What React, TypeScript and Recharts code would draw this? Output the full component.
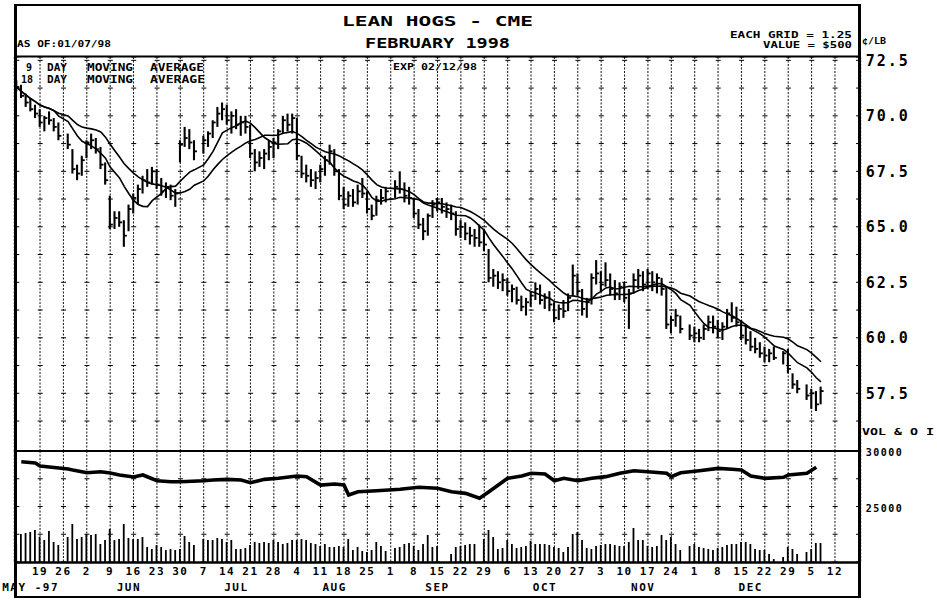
import React from 'react';
import { ComposedChart, Bar, Line, XAxis, YAxis, CartesianGrid } from 'recharts';

// daily bars, one per trading day from Mon May 12 1997; null = exchange holiday
// [high, low, close] in cents per lb
type OHLC = [number, number, number] | null;

const priceBars: OHLC[] = [
  [71.6, 71.1, 71.3], [71.4, 70.8, 70.9], [71.0, 70.4, 70.6], [70.8, 70.2, 70.3], [70.5, 69.9, 70.1],
  [70.3, 69.5, 69.7], [70.0, 69.3, 69.9], [70.2, 69.6, 69.8], [69.9, 69.3, 69.5], [69.7, 68.9, 69.1],
  null, [69.2, 68.5, 68.7], [68.5, 67.4, 67.6], [67.8, 67.1, 67.4], [68.2, 67.3, 68.0],
  [68.9, 68.1, 68.8], [69.2, 68.5, 68.9], [69.0, 68.3, 68.5], [68.6, 67.6, 67.8], [67.9, 66.9, 67.1],
  [66.4, 64.9, 65.1], [65.7, 64.9, 65.4], [65.7, 65.0, 65.2], [65.3, 64.1, 64.6], [66.0, 64.8, 65.8],
  [66.5, 65.6, 66.3], [66.9, 66.0, 66.7], [67.3, 66.5, 67.1], [67.6, 66.8, 67.0], [67.7, 66.9, 67.5],
  [67.6, 66.7, 66.9], [67.2, 66.4, 66.6], [67.0, 66.3, 66.8], [66.9, 66.2, 66.4], [66.7, 65.9, 66.5],
  [68.9, 67.9, 68.7], [69.5, 68.6, 69.0], [69.4, 68.5, 68.8], [68.9, 68.0, 68.4], null,
  [69.1, 68.3, 68.9], [69.3, 68.6, 69.2], [69.8, 69.0, 69.7], [70.4, 69.5, 70.1], [70.6, 69.8, 70.3],
  [70.5, 69.6, 69.8], [70.2, 69.2, 70.0], [70.3, 69.4, 69.6], [70.0, 69.1, 69.7], [70.0, 69.2, 69.5],
  [69.6, 68.1, 68.3], [68.5, 67.5, 67.9], [68.4, 67.7, 68.1], [68.5, 67.6, 68.3], [68.9, 68.0, 68.6],
  [69.0, 68.1, 68.8], [69.4, 68.5, 69.3], [70.0, 69.2, 69.8], [70.1, 69.3, 69.6], [70.1, 69.2, 69.9],
  [69.9, 68.0, 68.2], [68.2, 67.2, 67.4], [67.8, 67.0, 67.3], [67.6, 66.8, 67.1], [67.5, 66.7, 67.2],
  [67.8, 67.0, 67.6], [68.2, 67.3, 68.0], [68.7, 67.8, 68.4], [68.5, 67.3, 67.5], [67.6, 66.2, 66.4],
  [66.8, 65.8, 66.0], [66.6, 65.9, 66.4], [66.7, 65.9, 66.1], [66.9, 66.0, 66.6], [67.2, 66.3, 66.5],
  [66.6, 65.6, 65.8], [66.0, 65.3, 65.5], [66.4, 65.5, 66.2], [66.7, 66.0, 66.3], [66.8, 66.1, 66.6],
  null, [67.1, 66.3, 66.8], [67.5, 66.5, 66.7], [67.0, 66.1, 66.4], [66.8, 66.0, 66.3],
  [66.3, 65.4, 65.6], [65.8, 64.9, 65.1], [65.4, 64.4, 64.8], [65.6, 64.6, 65.5], [66.2, 65.4, 66.0],
  [66.3, 65.7, 66.1], [66.3, 65.6, 65.9], [66.1, 65.4, 65.8], [66.0, 65.3, 65.6], [65.7, 64.6, 64.9],
  [65.3, 64.5, 65.0], [65.2, 64.4, 64.7], [65.0, 64.2, 64.6], [64.9, 64.1, 64.5], [65.1, 64.1, 64.3],
  [64.9, 63.9, 64.2], [64.0, 62.5, 62.7], [63.1, 62.3, 62.8], [63.0, 62.2, 62.5], [62.9, 62.1, 62.6],
  [62.7, 61.9, 62.1], [62.4, 61.6, 62.2], [62.3, 61.5, 61.7], [61.9, 61.2, 61.4], [61.8, 61.0, 61.6],
  [62.1, 61.4, 61.9], [62.5, 61.7, 62.2], [62.4, 61.5, 61.7], [62.0, 61.3, 61.8], [62.1, 61.2, 61.5],
  [61.6, 60.7, 60.9], [61.5, 60.8, 61.3], [61.7, 60.9, 61.2], [62.0, 61.2, 61.8], [63.3, 61.9, 62.8],
  [62.9, 61.9, 62.1], [62.2, 61.0, 61.3], [61.8, 60.9, 61.6], [62.9, 61.5, 62.7], [63.5, 62.4, 62.9],
  [63.0, 62.1, 62.4], [63.4, 62.3, 62.6], [62.9, 61.9, 62.2], [62.6, 61.7, 62.0], [62.5, 61.7, 62.3],
  [62.5, 61.6, 61.8], [62.2, 60.4, 62.0], [62.9, 62.0, 62.6], [63.1, 62.2, 62.8], [63.0, 62.1, 62.4],
  [63.1, 62.2, 62.9], [63.0, 62.1, 62.5], [62.9, 62.0, 62.7], [62.7, 61.9, 62.2], [62.3, 60.4, 60.6],
  [61.0, 60.2, 60.8], [61.3, 60.5, 61.0], [61.0, 60.2, 60.4], null, [60.6, 59.9, 60.1],
  [60.5, 59.8, 60.2], [60.4, 59.8, 60.0], [60.6, 59.9, 60.4], [61.0, 60.3, 60.7], [61.0, 60.2, 60.5],
  [60.8, 60.0, 60.3], [60.7, 59.9, 60.5], [61.3, 60.4, 61.1], [61.6, 60.7, 60.9], [61.4, 60.5, 60.7],
  [60.8, 59.9, 60.1], [60.6, 59.7, 59.9], [60.3, 59.4, 59.6], [60.0, 59.3, 59.5], [59.8, 59.1, 59.3],
  [59.6, 58.9, 59.2], [59.5, 58.9, 59.3], [59.6, 59.0, 59.1], null, [59.4, 58.8, 59.3],
  [59.5, 58.4, 58.6], [58.4, 57.7, 57.9], [58.1, 57.5, 57.7], null, [57.9, 57.2, 57.4],
  [57.7, 56.8, 57.5], [57.6, 56.7, 57.0], [57.8, 57.0, 57.6],
];

// daily volume, contracts
const volume: (number | null)[] = [
  1800, 2800, 2900, 3000, 3200, 2500, 2200, 3100, 2000, 1700,
  null, 2500, 3800, 2300, 2500, 2800, 2700, 2800, 1800, 2200,
  3300, 2200, 2300, 3800, 2400, 2300, 2300, 2500, 1500, 1300,
  1700, 1500, 1200, 1300, 1200, 1300, 2600, 2000, 1700, null,
  2300, 2200, 2200, 2400, 2300, 2000, 2200, 1300, 1300, 1400,
  1700, 2000, 1900, 2000, 1900, 2200, 2000, 1800, 1900, 2200,
  2200, 2300, 2200, 1900, 1800, 1600, 1800, 1500, 1500, 1600,
  1500, 2300, 1200, 1500, 1100, 1000, 1200, 2000, 1600, 1100,
  null, 1400, 1500, 1800, 1900, 1600, 1200, 1800, 2700, 1500,
  1600, 0, 0, 800, 1500, 1600, 1700, 1800, 1800, 0,
  2300, 3200, 2500, 1300, 1400, 2200, 1800, 1400, 1500, 1600,
  2100, 1800, 1800, 1800, 1700, 1500, 1400, 1000, 1500, 2800,
  3000, 2200, 1400, 1300, 1600, 1700, 1800, 1800, 1700, 1600,
  1600, 2000, 3400, 2200, 2200, 1600, 1500, 1600, 2700, 2200,
  2500, 1800, 1200, null, 1600, 1800, 1500, 1400, 1300, 1200,
  1400, 1500, 1700, 1800, 1800, 2000, 2000, 1800, 1300, 1200,
  1200, 800, 300, null, 500, 1500, 1300, 800, null, 1000,
  1300, 1900, 1900,
];

// open interest, read at these trading-day slots
const oiDays = [
  1, 4, 5, 7, 11, 12, 15, 18, 20, 22, 25, 27, 30, 33, 35, 40, 42, 45, 48, 50,
  53, 56, 60, 62, 65, 68, 70, 71, 73, 77, 82, 86, 90, 93, 96, 99, 101, 103, 105, 108,
  110, 113, 115, 117, 120, 123, 126, 129, 132, 135, 139, 140, 142, 146, 150, 153, 155, 157, 160, 164,
  165, 169, 171,
];
const oiValues = [
  29130, 29020, 28750, 28660, 28480, 28390, 28150, 28240, 28125, 27950, 27770, 27950, 27440, 27350, 27350, 27440, 27500, 27560, 27500, 27260,
  27560, 27650, 27860, 27800, 27050, 27140, 27050, 26160, 26450, 26540, 26670, 26850, 26760, 26450, 26310, 25870, 26450, 27050, 27650, 27860,
  28100, 28040, 27440, 27650, 27440, 27650, 27800, 28100, 28330, 28240, 28100, 27800, 28150, 28330, 28540, 28460, 28390, 27860, 27650, 27740,
  27950, 28100, 28630,
];

// week starts (every 5th trading slot from May 19)
const dayLabels = [
  '19', '26', '2', '9', '16', '23', '30', '7', '14', '21', '28', '4', '11', '18', '25', '1', '8', '15',
  '22', '29', '6', '13', '20', '27', '3', '10', '17', '24', '1', '8', '15', '22', '29', '5', '12',
];
const monthLabels = ['MAY -97', 'JUN', 'JUL', 'AUG', 'SEP', 'OCT', 'NOV', 'DEC'];
const monthSlots = [3, 24, 47, 68, 90, 113, 134, 157];

const priceTicks = [57.5, 60, 62.5, 65, 67.5, 70, 72.5];
const gridTicks = [56.25, 57.5, 58.75, 60, 61.25, 62.5, 63.75, 65, 66.25, 67.5, 68.75, 70, 71.25, 72.5];
const oiTicks = [25000, 30000];

const SLOTS = 181;
const mondays = dayLabels.map((_, k) => 5 * (k + 1));
const dayLabelAt = new Map(mondays.map((m, k) => [m, dayLabels[k]]));
const monthLabelAt = new Map(monthSlots.map((m, k) => [m, monthLabels[k]]));

function movingAverage(n: number) {
  const out: (number | null)[] = [];
  const win: number[] = [];
  priceBars.forEach((b) => {
    if (!b) {
      out.push(null);
      return;
    }
    win.push(b[2]);
    if (win.length > n) win.shift();
    out.push(win.reduce((a, v) => a + v, 0) / win.length);
  });
  return out;
}
const ma9 = movingAverage(9);
const ma18 = movingAverage(18);

const rows = Array.from({ length: SLOTS }, (_, i) => {
  const b = priceBars[i] ?? null;
  return {
    i,
    range: b ? [b[1], b[0]] : null,
    high: b ? b[0] : null,
    low: b ? b[1] : null,
    close: b ? b[2] : null,
    ma9: ma9[i] ?? null,
    ma18: ma18[i] ?? null,
    vol: volume[i] ?? null,
    oi: null as number | null,
  };
});
oiDays.forEach((d, k) => {
  rows[d].oi = oiValues[k];
});

const OhlcShape = (props: any) => {
  const { x, y, width, height, payload } = props;
  if (!payload || payload.high == null) return <g />;
  const cx = x + width / 2;
  const span = payload.high - payload.low;
  const cy = span > 0 ? y + ((payload.high - payload.close) / span) * height : y;
  return (
    <g>
      <line x1={cx} x2={cx} y1={y} y2={y + height} stroke="#000" strokeWidth={2.1} />
      <line x1={cx} x2={cx + 3} y1={cy} y2={cy} stroke="#000" strokeWidth={1.8} />
    </g>
  );
};

const MONO = 'DejaVu Sans Mono';
const PLOT_LEFT = 14.3;
const RIGHT_W = 76.3;

export default function App() {
  const t = (s: any) => ({ fontFamily: MONO, fontWeight: 700, fill: '#000', ...s });
  return (
    <div style={{ position: 'absolute', left: 0, top: 0, width: 937, height: 601, background: '#fff' }}>
      <div style={{ position: 'absolute', left: 0, top: 0 }}>
        <ComposedChart
          width={937}
          height={460}
          data={rows}
          margin={{ top: 57, right: 0, bottom: 9, left: PLOT_LEFT }}
        >
          <CartesianGrid yAxisId="grid" vertical={false} stroke="#000" strokeWidth={1} strokeDasharray="5 18.381" />
          <CartesianGrid horizontal={false} stroke="#111" strokeWidth={1} strokeDasharray="2 1.5" />
          <XAxis dataKey="i" type="category" ticks={mondays} interval={0} hide />
          <YAxis yAxisId="grid" type="number" domain={[54.9, 72.65]} ticks={gridTicks} allowDataOverflow hide />
          <YAxis
            yAxisId="price"
            orientation="right"
            type="number"
            domain={[54.9, 72.65]}
            ticks={priceTicks}
            allowDataOverflow
            width={RIGHT_W}
            axisLine={false}
            tickLine={false}
            tickSize={0}
            tickMargin={5}
            tickFormatter={(v: number) => v.toFixed(1)}
            tick={t({ fontSize: 15, letterSpacing: 2 })}
          />
          <Bar
            yAxisId="price"
            dataKey={(d: any) => d.range}
            shape={OhlcShape}
            barSize={2}
            isAnimationActive={false}
          />
          <Line yAxisId="price" dataKey="ma9" type="linear" stroke="#000" strokeWidth={1.6} dot={false} connectNulls isAnimationActive={false} />
          <Line yAxisId="price" dataKey="ma18" type="linear" stroke="#000" strokeWidth={1.6} dot={false} connectNulls isAnimationActive={false} />
        </ComposedChart>
      </div>

      <div style={{ position: 'absolute', left: 0, top: 440 }}>
        <ComposedChart
          width={937}
          height={161}
          data={rows}
          margin={{ top: 11, right: 0, bottom: 7, left: PLOT_LEFT }}
        >
          <CartesianGrid yAxisId="vgrid" vertical={false} stroke="#000" strokeWidth={1} strokeDasharray="5 18.381" />
          <CartesianGrid horizontal={false} stroke="#111" strokeWidth={1} strokeDasharray="2 1.5" />
          <XAxis
            dataKey="i"
            type="category"
            ticks={mondays}
            interval={0}
            axisLine={false}
            tickLine={false}
            tickSize={0}
            tickMargin={5}
            height={14}
            tickFormatter={(v: number) => dayLabelAt.get(v) ?? ''}
            tick={t({ fontSize: 11, letterSpacing: 1.5 })}
          />
          <XAxis
            xAxisId="m"
            dataKey="i"
            type="category"
            ticks={monthSlots}
            interval={0}
            axisLine={false}
            tickLine={false}
            tickSize={0}
            tickMargin={7}
            height={18}
            tickFormatter={(v: number) => monthLabelAt.get(v) ?? ''}
            tick={t({ fontSize: 11, letterSpacing: 1.5 })}
          />
          <YAxis yAxisId="vgrid" type="number" domain={[0, 4]} ticks={[1, 2, 3]} allowDataOverflow hide />
          <YAxis yAxisId="vol" type="number" domain={[0, 11100]} allowDataOverflow hide />
          <YAxis
            yAxisId="oi"
            orientation="right"
            type="number"
            domain={[20180, 30090]}
            ticks={oiTicks}
            allowDataOverflow
            width={RIGHT_W}
            axisLine={false}
            tickLine={false}
            tickSize={0}
            tickMargin={5}
            tick={t({ fontSize: 10, letterSpacing: 1.5 })}
          />
          <Bar yAxisId="vol" dataKey="vol" fill="#000" barSize={1.8} isAnimationActive={false} />
          <Line yAxisId="oi" dataKey="oi" type="linear" stroke="#000" strokeWidth={3.6} dot={false} connectNulls isAnimationActive={false} />
        </ComposedChart>
      </div>

      <svg width={937} height={601} style={{ position: 'absolute', left: 0, top: 0, pointerEvents: 'none' }}>
        <g stroke="#000" fill="none">
          <line x1={14} x2={861} y1={5} y2={5} strokeWidth={2} />
          <line x1={15.5} x2={15.5} y1={4} y2={598} strokeWidth={3} />
          <line x1={859.5} x2={859.5} y1={4} y2={598} strokeWidth={3} />
          <line x1={14} x2={861} y1={56.5} y2={56.5} strokeWidth={2} />
          <line x1={14} x2={861} y1={451} y2={451} strokeWidth={2} />
          <line x1={14} x2={861} y1={562.5} y2={562.5} strokeWidth={2.5} />
          <line x1={14} x2={861} y1={597} y2={597} strokeWidth={2} />
        </g>
        <text x={342} y={26} textLength={191} lengthAdjust="spacingAndGlyphs" {...t({ fontSize: 14 })}>LEAN HOGS - CME</text>
        <text x={365} y={48} textLength={145} lengthAdjust="spacingAndGlyphs" {...t({ fontSize: 14 })}>FEBRUARY 1998</text>
        <text x={17} y={47} textLength={94} lengthAdjust="spacingAndGlyphs" {...t({ fontSize: 9 })}>AS OF:01/07/98</text>
        <text x={730} y={38} textLength={122} lengthAdjust="spacingAndGlyphs" {...t({ fontSize: 9 })}>EACH GRID = 1.25</text>
        <text x={763} y={48} textLength={89} lengthAdjust="spacingAndGlyphs" {...t({ fontSize: 9 })}>VALUE = $500</text>
        <text x={862} y={44} textLength={24} lengthAdjust="spacingAndGlyphs" {...t({ fontSize: 9 })}>¢/LB</text>
        <text x={393} y={70} textLength={84} lengthAdjust="spacingAndGlyphs" {...t({ fontSize: 9 })}>EXP 02/12/98</text>
        <text x={32} y={71} textAnchor="end" {...t({ fontSize: 10 })}>9</text>
        <text x={47} y={71} textLength={20} lengthAdjust="spacingAndGlyphs" {...t({ fontSize: 10 })}>DAY</text>
        <text x={87} y={71} textLength={46} lengthAdjust="spacingAndGlyphs" {...t({ fontSize: 10 })}>MOVING</text>
        <text x={150} y={71} textLength={54} lengthAdjust="spacingAndGlyphs" {...t({ fontSize: 10 })}>AVERAGE</text>
        <text x={33} y={83} textAnchor="end" {...t({ fontSize: 10 })}>18</text>
        <text x={47} y={83} textLength={20} lengthAdjust="spacingAndGlyphs" {...t({ fontSize: 10 })}>DAY</text>
        <text x={87} y={83} textLength={46} lengthAdjust="spacingAndGlyphs" {...t({ fontSize: 10 })}>MOVING</text>
        <text x={150} y={83} textLength={55} lengthAdjust="spacingAndGlyphs" {...t({ fontSize: 10 })}>AVERAGE</text>
        <text x={862} y={435} textLength={72} lengthAdjust="spacingAndGlyphs" {...t({ fontSize: 8 })}>VOL &amp; O I</text>
      </svg>
    </div>
  );
}
